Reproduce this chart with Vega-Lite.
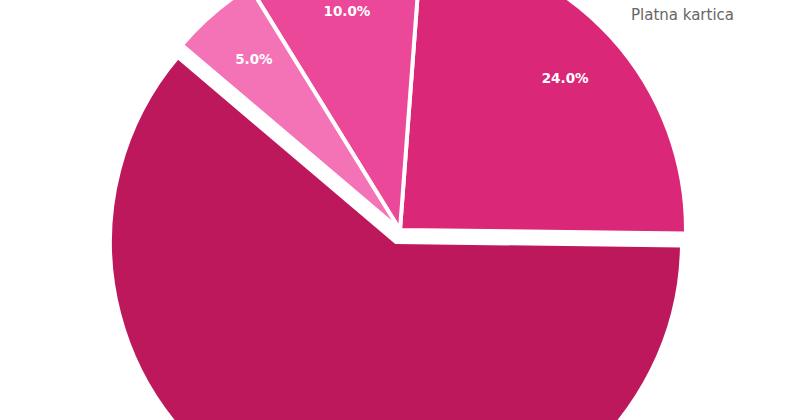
{
  "$schema": "https://vega.github.io/schema/vega-lite/v6.json",
  "width": 800,
  "height": 420,
  "autosize": {"type": "none"},
  "padding": 0,
  "background": "white",
  "config": {"view": {"stroke": null}},
  "data": {
    "values": [
      {"method": "Gotovina", "share": 0.61},
      {"method": "Mobilno plaćanje", "share": 0.24},
      {"method": "Internet bankarstvo", "share": 0.10},
      {"method": "Platna kartica", "share": 0.05}
    ]
  },
  "transform": [
    {"stack": "share", "groupby": [], "sort": [{"field": "share", "order": "descending"}], "as": ["s0", "s1"]}
  ],
  "encoding": {
    "color": {
      "field": "method",
      "type": "nominal",
      "scale": {
        "domain": ["Gotovina", "Mobilno plaćanje", "Internet bankarstvo", "Platna kartica"],
        "range": ["#be185d", "#db2777", "#ec4899", "#f472b6"]
      },
      "legend": {
        "orient": "none",
        "legendX": 616,
        "legendY": 7,
        "title": null,
        "values": ["Platna kartica"],
        "symbolSize": 0,
        "symbolOpacity": 0,
        "symbolStrokeWidth": 0,
        "labelOffset": 0,
        "padding": 0,
        "labelFont": "DejaVu Sans",
        "labelFontSize": 15,
        "labelColor": "#666666"
      }
    }
  },
  "layer": [
    {
      "transform": [{"filter": "datum.method === 'Gotovina'"}],
      "mark": {"type": "arc", "outerRadius": 286, "stroke": "white", "strokeWidth": 4, "xOffset": -4, "yOffset": 32},
      "encoding": {
        "theta": {"field": "s0", "type": "quantitative", "scale": {"domain": [0, 1], "range": [5.4157, -0.8675]}},
        "theta2": {"field": "s1"}
      }
    },
    {
      "transform": [{"filter": "datum.method !== 'Gotovina'"}],
      "mark": {"type": "arc", "outerRadius": 286, "stroke": "white", "strokeWidth": 4, "yOffset": 20},
      "encoding": {
        "theta": {"field": "s0", "type": "quantitative", "scale": {"domain": [0, 1], "range": [5.4157, -0.8675]}},
        "theta2": {"field": "s1"}
      }
    },
    {
      "mark": {"type": "text", "radius": 224, "yOffset": 20, "font": "DejaVu Sans", "fontWeight": "bold", "fontSize": 13.5, "align": "center", "baseline": "middle"},
      "encoding": {
        "theta": {"field": "share", "type": "quantitative", "stack": true, "scale": {"domain": [0, 1], "range": [5.4157, -0.8675]}},
        "order": {"field": "share", "sort": "descending"},
        "text": {"field": "share", "type": "quantitative", "format": ".1%"},
        "color": {"value": "white"}
      }
    }
  ]
}
